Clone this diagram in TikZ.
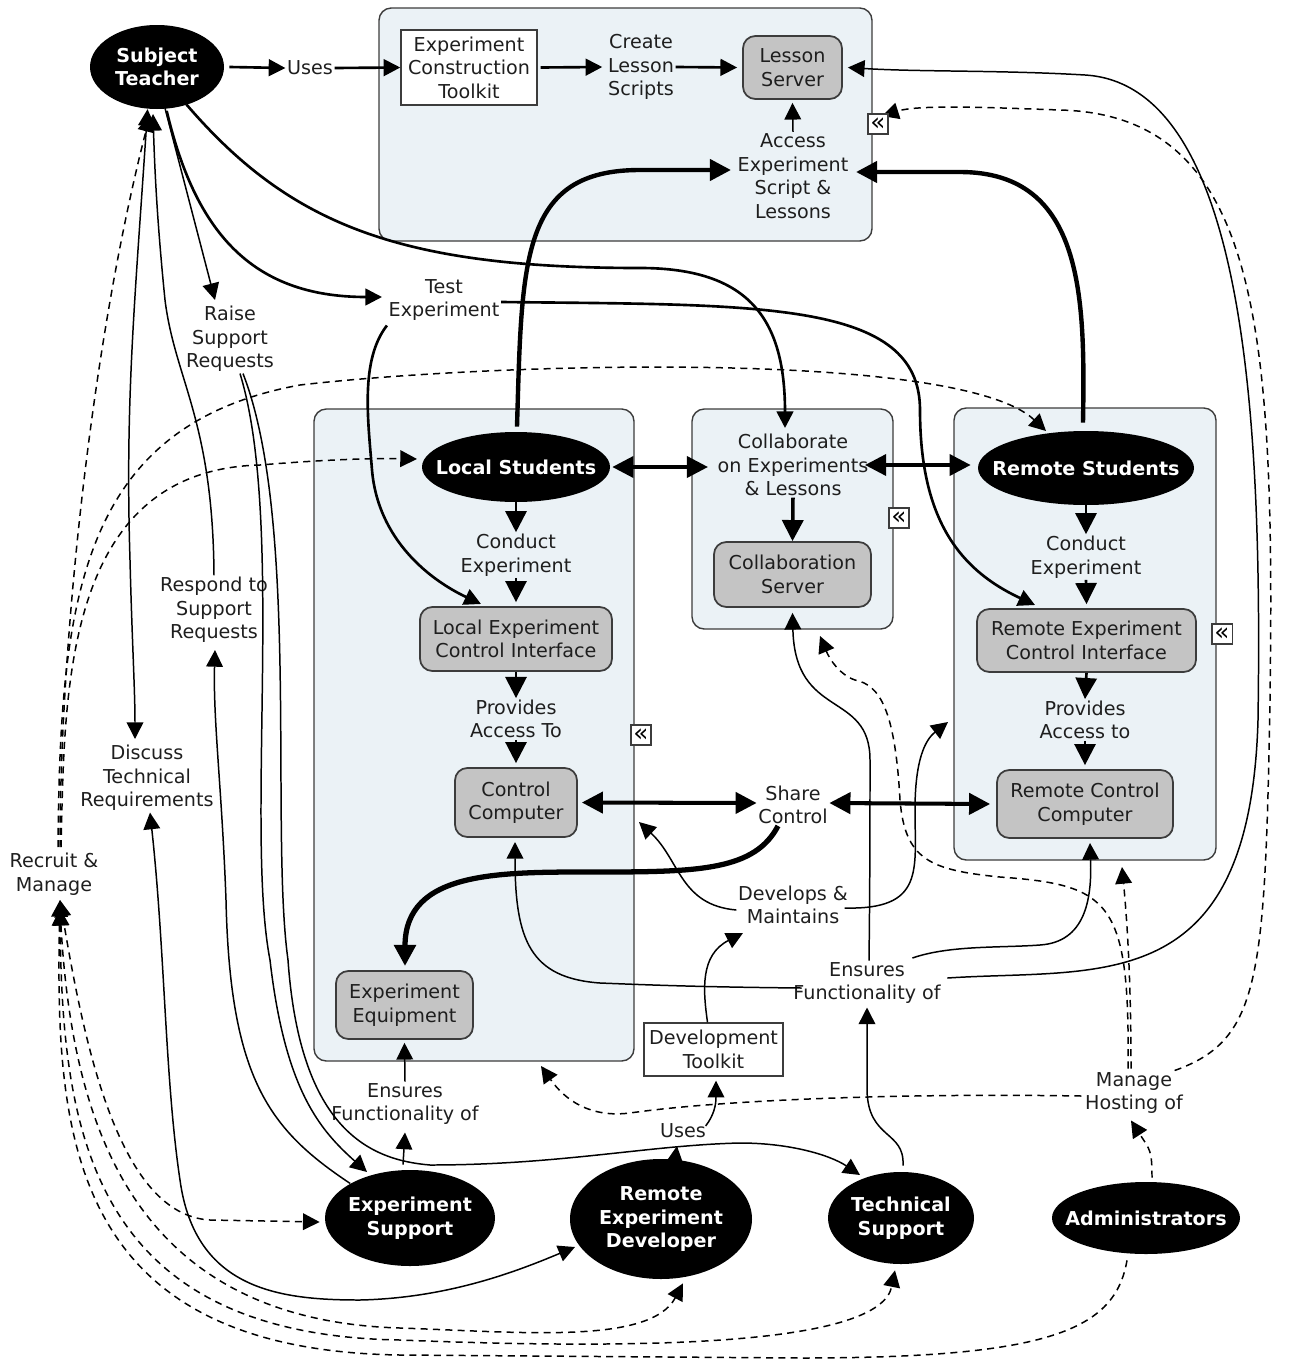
\documentclass[tikz,border=0pt]{standalone}
\usepackage{fontspec}
\setmainfont{DejaVu Sans}
\usetikzlibrary{arrows.meta,shapes.geometric,calc}
\definecolor{panelfill}{HTML}{EBF2F6}
\definecolor{panelline}{HTML}{3C3C3C}
\definecolor{servergray}{HTML}{C4C4C4}
\definecolor{ink}{HTML}{1E1E1E}
\tikzset{
  base/.style={font=\fontsize{10.9}{13.4}\selectfont,text=ink,align=center},
  label/.style={base,inner sep=1pt,outer sep=0pt},
  panel/.style={draw=panelline,fill=panelfill,rounded corners=7pt,line width=.8pt,inner sep=0pt},
  server/.style={base,draw=panelline,fill=servergray,rounded corners=7pt,line width=1pt,inner sep=0pt},
  plainbox/.style={base,draw=panelline,fill=white,line width=.8pt,inner sep=0pt},
  actor/.style={ellipse,fill=black,text=white,align=center,inner xsep=-15pt,inner ysep=-5pt,font=\fontsize{10.9}{13.4}\selectfont\bfseries},
  collapse/.style={draw=panelline,fill=white,line width=.7pt,minimum size=11.5pt,inner sep=0pt,font=\fontsize{14}{14}\selectfont},
  thinl/.style={line width=.85pt,draw=black},
  midl/.style={line width=1.5pt,draw=black},
  thickl/.style={line width=2.5pt,draw=black},
  dashl/.style={line width=.85pt,draw=black,dash pattern=on 4pt off 3pt},
  tip/.style={-{Triangle[length=9.5pt,width=9.5pt]}},
  bitip/.style={{Triangle[length=9.5pt,width=9.5pt]}-{Triangle[length=9.5pt,width=9.5pt]}},
  bigtip/.style={-{Triangle[length=12pt,width=12pt]}},
  bigbitip/.style={{Triangle[length=12pt,width=12pt]}-{Triangle[length=12pt,width=12pt]}},
}
\begin{document}
\begin{tikzpicture}[x=0.02cm,y=-0.02cm]
\useasboundingbox (0,0) rectangle (1289,1359);
% panels
\node[panel,minimum width=493*0.02cm,minimum height=233*0.02cm] (toppanel) at (625.5,124.5) {};
\node[panel,minimum width=320*0.02cm,minimum height=652*0.02cm] (leftpanel) at (474,735) {};
\node[panel,minimum width=201*0.02cm,minimum height=220*0.02cm] (midpanel) at (792.5,519) {};
\node[panel,minimum width=262*0.02cm,minimum height=452*0.02cm] (rightpanel) at (1085,634) {};
% actors
\node[actor,minimum width=134*0.02cm,minimum height=84*0.02cm] (teacher) at (157,67) {Subject\\Teacher};
\node[actor,minimum width=188*0.02cm,minimum height=70*0.02cm] (localst) at (516,467) {Local Students};
\node[actor,minimum width=216*0.02cm,minimum height=74*0.02cm] (remotest) at (1086,468) {Remote Students};
\node[actor,minimum width=170*0.02cm,minimum height=96*0.02cm] (expsup) at (410,1218) {Experiment\\Support};
\node[actor,minimum width=182*0.02cm,minimum height=120*0.02cm] (remdev) at (661,1219) {Remote\\Experiment\\Developer};
\node[actor,minimum width=146*0.02cm,minimum height=92*0.02cm] (techsup) at (901,1218) {Technical\\Support};
\node[actor,minimum width=188*0.02cm,minimum height=72*0.02cm] (admins) at (1146,1218) {Administrators};
% boxes
\node[plainbox,minimum width=136*0.02cm,minimum height=75*0.02cm] (toolkit) at (469,67.5) {Experiment\\Construction\\Toolkit};
\node[server,minimum width=99*0.02cm,minimum height=63*0.02cm] (lesson) at (792.5,67.5) {Lesson\\Server};
\node[server,minimum width=157*0.02cm,minimum height=65*0.02cm] (collabsrv) at (792.5,574.5) {Collaboration\\Server};
\node[server,minimum width=192*0.02cm,minimum height=64*0.02cm] (leci) at (516,639) {Local Experiment\\Control Interface};
\node[server,minimum width=219*0.02cm,minimum height=63*0.02cm] (reci) at (1086.5,640.5) {Remote Experiment\\Control Interface};
\node[server,minimum width=122*0.02cm,minimum height=69*0.02cm] (ctrl) at (516,802.5) {Control\\Computer};
\node[server,minimum width=176*0.02cm,minimum height=68*0.02cm] (rctrl) at (1085,804) {Remote Control\\Computer};
\node[server,minimum width=137*0.02cm,minimum height=68*0.02cm] (equip) at (404.5,1005) {Experiment\\Equipment};
\node[plainbox,minimum width=139*0.02cm,minimum height=53*0.02cm] (devkit) at (713.5,1049.5) {Development\\Toolkit};
% labels
\node[label] (uses) at (310,68) {Uses};
\node[label] (scripts) at (641,67) {Create\\Lesson\\Scripts};
\node[label] (access) at (793,176) {Access\\Experiment\\Script \&\\Lessons};
\node[label] (test) at (444,300) {Test\\Experiment};
\node[label] (raise) at (230,339) {Raise\\Support\\Requests};
\node[label] (respond) at (214,610) {Respond to\\Support\\Requests};
\node[label] (discuss) at (147,778) {Discuss\\Technical\\Requirements};
\node[label] (recruit) at (54,874) {Recruit \&\\Manage};
\node[label] (collab) at (793,465) {Collaborate\\on Experiments\\\& Lessons};
\node[label] (cond1) at (516,555) {Conduct\\Experiment};
\node[label] (cond2) at (1086,557) {Conduct\\Experiment};
\node[label] (prov1) at (516,719) {Provides\\Access To};
\node[label] (prov2) at (1085,720) {Provides\\Access to};
\node[label] (share) at (793,805) {Share\\Control};
\node[label] (develops) at (793,905) {Develops \&\\Maintains};
\node[label] (ensures) at (867,983) {Ensures\\Functionality of};
\node[label] (ensequip) at (405,1104) {Ensures\\Functionality of};
\node[label] (uses2) at (683,1131) {Uses};
\node[label] (manage) at (1134,1093) {Manage\\Hosting of};
% top row
\draw[midl,tip] (teacher.east) ++(5,0) -- (uses.west) ;
\draw[midl,tip] (uses.east) -- (toolkit.west);
\draw[midl,tip] ([xshift=3*0.02cm]toolkit.east) -- ([xshift=-4*0.02cm]scripts.west);
\draw[midl,tip] (scripts.east) -- ([xshift=-5*0.02cm]lesson.west);
\draw[thinl,tip] (access.north) -- ([yshift=-3*0.02cm]lesson.south);
% thick to access
\draw[thickl,bigtip] (localst.north) ++(1,-5) .. controls (522,260) and (520,170) .. (640,170) -- ([xshift=-5*0.02cm,yshift=6*0.02cm]access.west);
\draw[thickl,bigtip] (remotest.north) ++(-3,-8) .. controls (1085,300) and (1085,172) .. (960,172) -- ([xshift=6*0.02cm,yshift=4*0.02cm]access.east);
% teacher outgoing
\draw[midl,tip] (teacher.-77) ++(0,2) .. controls (195,230) and (250,297) .. (382,297);
\draw[thinl,tip] (teacher.-70) ++(-7,0) -- (215,300);
\draw[midl,tip] (teacher.-50) ++(-2,0) .. controls (290,225) and (400,268) .. (640,268) .. controls (750,268) and (785,320) .. (785,428);
% test outgoing
\draw[midl,tip] (test.east) ++(0,2) .. controls (760,305) and (920,300) .. (920,410) .. controls (920,520) and (960,570) .. (1035,605);
\draw[midl,tip] (test.south west) ++(0,3) .. controls (360,360) and (368,420) .. (372,470) .. controls (378,540) and (430,580) .. (481,604);
% support requests
\draw[thinl,tip] (raise.south) ++(10,0) .. controls (285,520) and (245,830) .. (270,960) .. controls (285,1090) and (320,1130) .. (367,1172);
\draw[thinl,tip] (raise.south) ++(13,0) .. controls (300,520) and (270,830) .. (288,960) .. controls (300,1130) and (370,1160) .. (430,1165) .. controls (560,1165) and (650,1145) .. (740,1143) .. controls (790,1143) and (830,1155) .. (860,1175);
\draw[thinl,tip] (expsup.150) .. controls (270,1130) and (230,1080) .. (226,900) .. controls (222,790) and (213,720) .. (215,650);
\draw[thinl,tip] (respond.north) .. controls (213,420) and (175,380) .. (165,300) .. controls (158,230) and (155,180) .. (153,114);
% discuss
\draw[thinl,bitip] (teacher.-100) ++(-2,0) .. controls (135,300) and (125,400) .. (130,560) .. controls (132,640) and (135,690) .. (135,739);
\draw[thinl,bitip] (discuss.south) ++(3,0) .. controls (165,950) and (165,1080) .. (180,1180) .. controls (195,1290) and (280,1300) .. (360,1300) .. controls (450,1298) and (520,1270) .. (575,1247);
% collaboration row
\draw[line width=2pt,bigbitip] (localst.east) ++(2,0) -- ([xshift=-8*0.02cm]collab.west |- localst.east);
\draw[line width=2pt,bigbitip] ([yshift=0*0.02cm]collab.east) ++(-5,0) -- ([xshift=-7*0.02cm,yshift=3*0.02cm]remotest.west);
\draw[line width=2pt,bigtip] (collab.south) -- (collabsrv.north);
% vertical flows
\draw[midl,bigtip] (localst.south) -- (cond1.north);
\draw[midl,bigtip] (cond1.south) -- ([yshift=4*0.02cm]leci.north);
\draw[midl,bigtip] (leci.south) -- (prov1.north);
\draw[midl,bigtip] (prov1.south) -- ([yshift=4*0.02cm]ctrl.north);
\draw[midl,bigtip] (remotest.south) -- (cond2.north);
\draw[midl,bigtip] (cond2.south) -- ([yshift=4*0.02cm]reci.north);
\draw[midl,bigtip] (reci.south) -- (prov2.north);
\draw[midl,bigtip] (prov2.south) -- ([yshift=4*0.02cm]rctrl.north);
% share control
\draw[line width=2.3pt,bigbitip] ([xshift=4*0.02cm]ctrl.east) -- ([yshift=2*0.02cm]share.west);
\draw[line width=2.3pt,bigbitip] ([yshift=2*0.02cm]share.east) -- ([xshift=-6*0.02cm]rctrl.west);
\draw[line width=3pt,draw=black,bigtip] (share.south) ++(-15,0) .. controls (755,870) and (700,872) .. (600,872) .. controls (500,872) and (405,870) .. (405,966);
% develops
\draw[thinl,tip] (develops.west) ++(0,5) .. controls (680,905) and (680,860) .. (639,822);
\draw[thinl,tip] (develops.east) ++(-5,3) .. controls (925,910) and (915,870) .. (915,810) .. controls (915,760) and (925,740) .. (948,722);
\draw[thinl,tip] (devkit.north) ++(-6,0) .. controls (703,990) and (700,955) .. (743,933);
% ensures
\draw[thinl,tip] (ensures.west) ++(10,5) .. controls (700,987) and (650,985) .. (600,983) .. controls (530,978) and (515,940) .. (515,842);
\draw[thinl,tip] (ensures.east) ++(-30,-25) .. controls (950,945) and (1000,948) .. (1040,945) .. controls (1085,942) and (1092,900) .. (1090,843);
\draw[thinl,tip] (ensures.east) ++(5,-5) .. controls (1100,968) and (1250,1000) .. (1258,720) .. controls (1262,440) and (1250,85) .. (1085,75) .. controls (1000,70) and (920,72) .. ([xshift=5*0.02cm]lesson.east);
\draw[thinl,tip] (ensures.north) ++(2,0) .. controls (870,880) and (870,810) .. (870,760) .. controls (870,690) and (795,720) .. ([yshift=-5*0.02cm]collabsrv.south);
\draw[thinl,tip] (techsup.north) ++(2,-6) .. controls (905,1130) and (868,1140) .. (867,1090) -- ([yshift=-2*0.02cm]ensures.south);
\draw[thinl,tip] (ensequip.north) -- ([yshift=-3*0.02cm]equip.south);
\draw[thinl,tip] (expsup.north) ++(-7,-5) -- ([yshift=-6*0.02cm]ensequip.south);
\draw[thinl,tip] (remdev.north) ++(14,2) -- (677,1146);
\draw[thinl,tip] (uses2.east) ++(-2,-5) .. controls (714,1115) and (716,1105) .. ([xshift=2.5*0.02cm,yshift=-4*0.02cm]devkit.south);
% dashed
\draw[dashl,tip] (recruit.north) ++(6,-4) .. controls (60,650) and (90,350) .. (150,115);
\draw[dashl,tip] (recruit.north) ++(7,-4) .. controls (65,700) and (60,470) .. (260,465) .. controls (320,460) and (370,458) .. (417,459);
\draw[dashl,tip] (recruit.north) ++(4,-4) .. controls (60,600) and (80,425) .. (300,385) .. controls (500,362) and (960,350) .. (1046,431);
\draw[dashl,bitip] (60,900) .. controls (85,1050) and (120,1215) .. (210,1220) -- ([xshift=-5*0.02cm,yshift=-4*0.02cm]expsup.west);
\draw[dashl,bitip] (recruit.south) ++(6,12) .. controls (72,1120) and (130,1320) .. (400,1328) .. controls (520,1332) and (650,1345) .. ([xshift=22*0.02cm,yshift=-4*0.02cm]remdev.south);
\draw[dashl,bitip] (recruit.south) ++(6,12) .. controls (62,1130) and (90,1335) .. (400,1340) .. controls (650,1350) and (880,1345) .. ([xshift=-6*0.02cm,yshift=-6*0.02cm]techsup.south);
\draw[dashl,tip] (admins.south) ++(-19,6) .. controls (1115,1330) and (1050,1358) .. (800,1358) -- (400,1355) .. controls (65,1350) and (55,1130) .. (60,900);
\draw[dashl,tip] (admins.north) ++(6,-4) .. controls (1152,1150) and (1150,1150) .. ([yshift=-5*0.02cm,xshift=-3*0.02cm]manage.south);
\draw[dashl,tip] (manage.west) ++(-2,3) .. controls (900,1093) and (720,1100) .. (630,1113) .. controls (590,1118) and (565,1100) .. (541,1066);
\draw[dashl,tip] (manage.north) ++(-3,-2) .. controls (1131,990) and (1128,930) .. (1122,867);
\draw[dashl,tip] (manage.north) ++(-6,-2) .. controls (1130,900) and (1110,885) .. (1000,877) .. controls (930,870) and (905,860) .. (900,800) .. controls (895,710) and (880,685) .. (855,680) .. controls (840,675) and (830,660) .. (820,636);
\draw[dashl,tip] (manage.north east) ++(-10,0) .. controls (1260,1040) and (1265,980) .. (1270,700) .. controls (1275,330) and (1260,115) .. (1060,110) .. controls (1000,108) and (920,104) .. (882,116);
% collapse marks
\node[collapse] (cm1) at (878,124) {«};
\node[collapse] (cm2) at (899,518) {«};
\node[collapse] (cm3) at (641,735) {«};
\node[collapse] (cm4) at (1222,634) {«};
\end{tikzpicture}
\end{document}
